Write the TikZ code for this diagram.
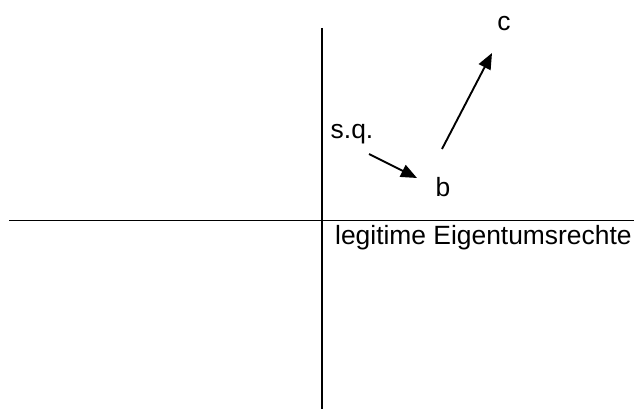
\documentclass[tikz,border=0pt]{standalone}
\usepackage{fontspec}
\setmainfont{Liberation Sans}
\usetikzlibrary{arrows.meta, positioning}

\begin{document}
\begin{tikzpicture}[x=1pt, y=-1pt, font=\fontsize{26.4}{30}\selectfont,
  axisline/.style={line width=1.9pt, black},
  movearrow/.style={line width=1.9pt, -{Triangle[length=16pt, width=13pt]}},
  lbl/.style={inner sep=0pt}]

  % --- Frame ---
  \useasboundingbox (0,0) rectangle (634,409);

  % --- Axes ---
  \draw[axisline] (9,220.5) -- (634,220.5);
  \draw[axisline] (322,28) -- (322,409);

  % --- Labels ---
  \node[lbl] (c) at (504,24) {c};
  \node[lbl] (sq) at (352,134) {s.q.};
  \node[lbl] (b) at (443,187) {b};
  \node[lbl, anchor=base west] (rights) at (335,244) {legitime Eigentumsrechte};

  % --- Arrow end points ---
  \coordinate (sqout) at (369,154);
  \coordinate (bin) at (417,178);
  \coordinate (bout) at (442,149);
  \coordinate (cin) at (492,53);

  % --- Moves ---
  \draw[movearrow] (sqout) -- (bin);
  \draw[movearrow] (bout) -- (cin);

\end{tikzpicture}
\end{document}
